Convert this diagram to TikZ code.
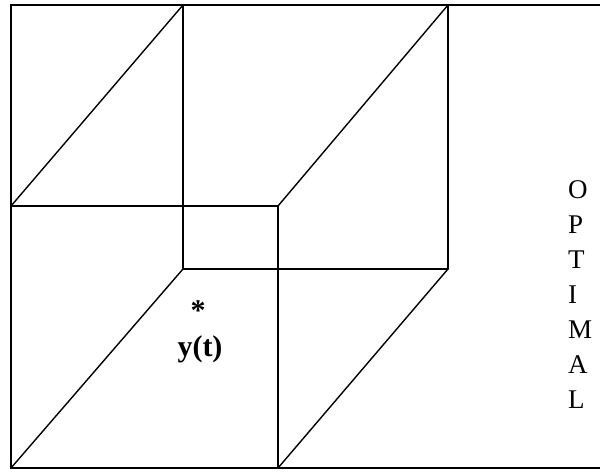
\documentclass[tikz,border=0pt]{standalone}
\usepackage{fontspec}
\setmainfont{Liberation Serif}
\begin{document}
\begin{tikzpicture}[x=1pt,y=-1pt,
  edge/.style={line width=1.4pt,line cap=round,line join=round},
  frame/.style={line width=1.8pt},
  letter/.style={anchor=base west,inner sep=0pt,font=\fontsize{27}{27}\selectfont},
  lbl/.style={anchor=base,inner sep=0pt,font=\fontsize{30}{30}\selectfont\bfseries}]
\useasboundingbox (0,0) rectangle (600,472);
% corners
\coordinate (A) at (11,206);
\coordinate (B) at (278,206);
\coordinate (C) at (278,468);
\coordinate (D) at (11,468);
\coordinate (E) at (183,5);
\coordinate (F) at (448,5);
\coordinate (G) at (448,269);
\coordinate (H) at (183,269);
\coordinate (TL) at (11,5);
\coordinate (TR) at (602,5);
\coordinate (BR) at (602,468);
% outer frame
\draw[frame] (TR) -- (TL) -- (D) -- (BR);
% back face
\draw[edge] (E) -- (F) -- (G) -- (H) -- cycle;
% front face
\draw[edge] (A) -- (B) -- (C) -- (D) -- cycle;
% depth edges
\draw[edge] (A) -- (E);
\draw[edge] (B) -- (F);
\draw[edge] (C) -- (G);
\draw[edge] (D) -- (H);
% labels
\node[lbl] (star) at (198,320) {*};
\node[lbl] (yt) at (200,356) {y(t)};
\node[letter] (o1) at (568,198) {O};
\node[letter] (o2) at (568,233) {P};
\node[letter] (o3) at (568,268) {T};
\node[letter] (o4) at (568,303) {I};
\node[letter] (o5) at (568,338) {M};
\node[letter] (o6) at (568,373) {A};
\node[letter] (o7) at (568,408) {L};
\end{tikzpicture}
\end{document}
